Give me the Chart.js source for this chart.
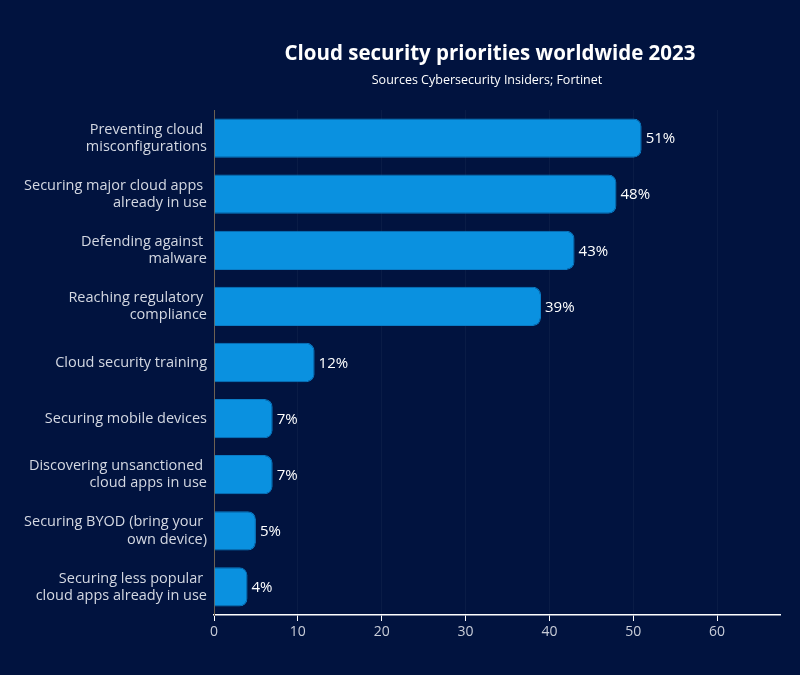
<!DOCTYPE html>
<html>
<head>
<meta charset="utf-8">
<script src="https://cdn.jsdelivr.net/npm/chart.js@4.4.0/dist/chart.umd.min.js"></script>
<style>
  html, body { margin: 0; padding: 0; background: #01133f; }
  #wrap { width: 800px; height: 675px; position: relative; }
</style>
</head>
<body>
<div id="wrap"><canvas id="chart" width="800" height="675"></canvas></div>
<script>
// chart data
const categories = [
  ["Preventing cloud ", "misconfigurations"],
  ["Securing major cloud apps ", "already in use"],
  ["Defending against ", "malware"],
  ["Reaching regulatory ", "compliance"],
  "Cloud security training",
  "Securing mobile devices",
  ["Discovering unsanctioned ", "cloud apps in use"],
  ["Securing BYOD (bring your ", "own device)"],
  ["Securing less popular ", "cloud apps already in use"]
];
const shares = [51, 48, 43, 39, 12, 7, 7, 5, 4];
const xTicks = [0, 10, 20, 30, 40, 50, 60];

const titleText = "Cloud security priorities worldwide 2023";
const subtitleText = "Sources Cybersecurity Insiders; Fortinet";

const FONT = "'Open Sans', sans-serif";

// value labels at the end of each bar
const valueLabels = {
  id: "valueLabels",
  afterDatasetsDraw(chart) {
    const ctx = chart.ctx;
    const meta = chart.getDatasetMeta(0);
    ctx.save();
    ctx.fillStyle = "#ffffff";
    ctx.font = "500 15px " + FONT;
    ctx.textBaseline = "middle";
    ctx.textAlign = "left";
    meta.data.forEach((bar, i) => {
      ctx.fillText(shares[i] + "%", bar.x + 4, bar.y + 1);
    });
    ctx.restore();
  }
};

// title + subtitle, centred over the plot
const heading = {
  id: "heading",
  afterDraw(chart) {
    const ctx = chart.ctx;
    ctx.save();
    ctx.fillStyle = "#ffffff";
    ctx.textAlign = "center";
    ctx.textBaseline = "middle";
    ctx.font = "bold 20.5px " + FONT;
    ctx.fillText(titleText, 490, 54);
    ctx.font = "12.5px " + FONT;
    ctx.fillText(subtitleText, 487, 80);
    ctx.restore();
  }
};

new Chart(document.getElementById("chart"), {
  type: "bar",
  data: {
    labels: categories,
    datasets: [{
      data: shares,
      backgroundColor: "#0a91e0",
      borderColor: "#0a7cc6",
      borderWidth: 1,
      borderRadius: { topRight: 8, bottomRight: 8, topLeft: 0, bottomLeft: 0 },
      borderSkipped: "start",
      categoryPercentage: 1,
      barPercentage: 0.7
    }]
  },
  options: {
    indexAxis: "y",
    responsive: false,
    animation: false,
    layout: { padding: { top: 110, right: 20, left: 0, bottom: 0 } },
    plugins: {
      legend: { display: false },
      title: { display: false },
      tooltip: { enabled: false }
    },
    scales: {
      x: {
        min: 0,
        max: 67.5,
        afterBuildTicks: (axis) => { axis.ticks = xTicks.map(v => ({ value: v })); },
        afterFit: (axis) => { axis.height = 60; },
        ticks: {
          color: "#c9cdd8",
          font: { family: FONT, size: 14 },
          padding: 3
        },
        grid: {
          color: "rgba(255,255,255,0.04)",
          tickColor: "#ffffff",
          tickLength: 6,
          drawTicks: true
        },
        border: { color: "#ffffff", width: 1.5 }
      },
      y: {
        afterFit: (axis) => { axis.width = 214; },
        ticks: {
          color: "#d4d8e2",
          font: { family: FONT, size: 14.5, lineHeight: 1.18 },
          padding: 7
        },
        grid: { display: false, drawTicks: false },
        border: { color: "#6e6152", width: 1 }
      }
    }
  },
  plugins: [valueLabels, heading]
});
</script>
</body>
</html>
